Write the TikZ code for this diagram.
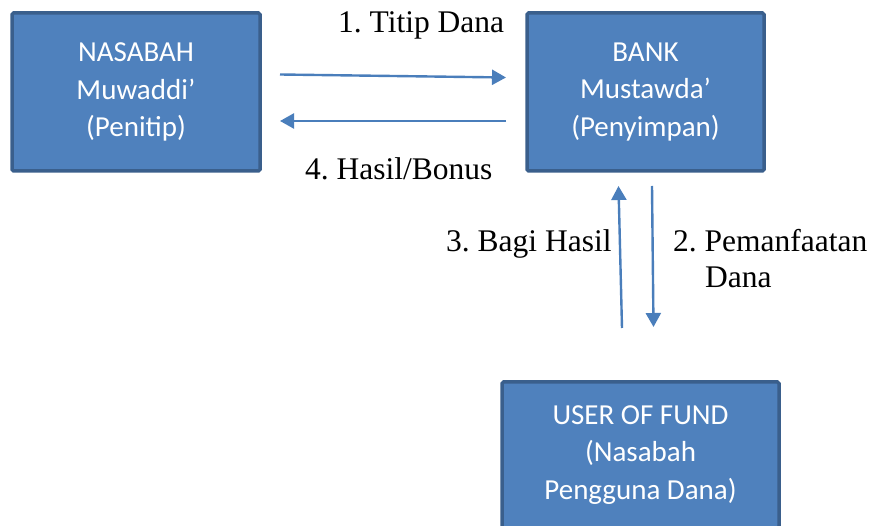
\documentclass[tikz,border=0pt]{standalone}
\usepackage{fontspec}
\setmainfont{Liberation Serif}
\newfontfamily\boxfont{Carlito}
\usetikzlibrary{arrows.meta}
\definecolor{boxfill}{HTML}{4F81BD}
\definecolor{boxline}{HTML}{3A5F8C}
\definecolor{arrowcol}{HTML}{4A7EBB}
\frenchspacing
\tikzset{
  entity/.style={draw=boxline, fill=boxfill, line width=3.5pt, rounded corners=1.5pt,
    text=white, align=center, inner sep=0pt,
    font=\boxfont\fontsize{29}{37.5}\selectfont},
  flow/.style={draw=arrowcol, line width=2.4pt, -{Triangle[length=14pt,width=15pt]}},
  lbl/.style={font=\fontsize{31.5}{36}\selectfont, anchor=base west, inner sep=0pt}
}
\begin{document}
\begin{tikzpicture}[x=1pt,y=-1pt]
\useasboundingbox (0,0) rectangle (879,526);
\clip (0,0) rectangle (879,526);
\node[entity, minimum width=248pt, minimum height=158pt] (nasabah) at (136,92)
  {NASABAH\\Muwaddi’\\(Penitip)};
\node[entity, minimum width=237pt, minimum height=158pt] (bank) at (645.5,92)
  {BANK\\Mustawda’\\(Penyimpan)};
\node[entity, minimum width=277pt, minimum height=146pt] (user) at (640.5,455)
  {USER OF FUND\\(Nasabah\\Pengguna Dana)};
% arrow end points
\coordinate (a1s) at (280,74.5);
\coordinate (a1e) at (506,77.5);
\coordinate (a4s) at (506,121);
\coordinate (a4e) at (280,121);
\coordinate (a3s) at (622,328);
\coordinate (a3e) at (618.5,186);
\coordinate (a2s) at (652,186);
\coordinate (a2e) at (653.5,327);
\draw[flow] (a1s) -- (a1e);
\draw[flow] (a4s) -- (a4e);
\draw[flow] (a3s) -- (a3e);
\draw[flow] (a2s) -- (a2e);
\node[lbl] (l1) at (338,33) {1. Titip Dana};
\node[lbl] (l4) at (305,180) {4. Hasil/Bonus};
\node[lbl] (l3) at (446,252) {3. Bagi Hasil};
\node[lbl] (l2) at (673,252) {2. Pemanfaatan};
\node[lbl] (l2b) at (705,288) {Dana};
\end{tikzpicture}
\end{document}
